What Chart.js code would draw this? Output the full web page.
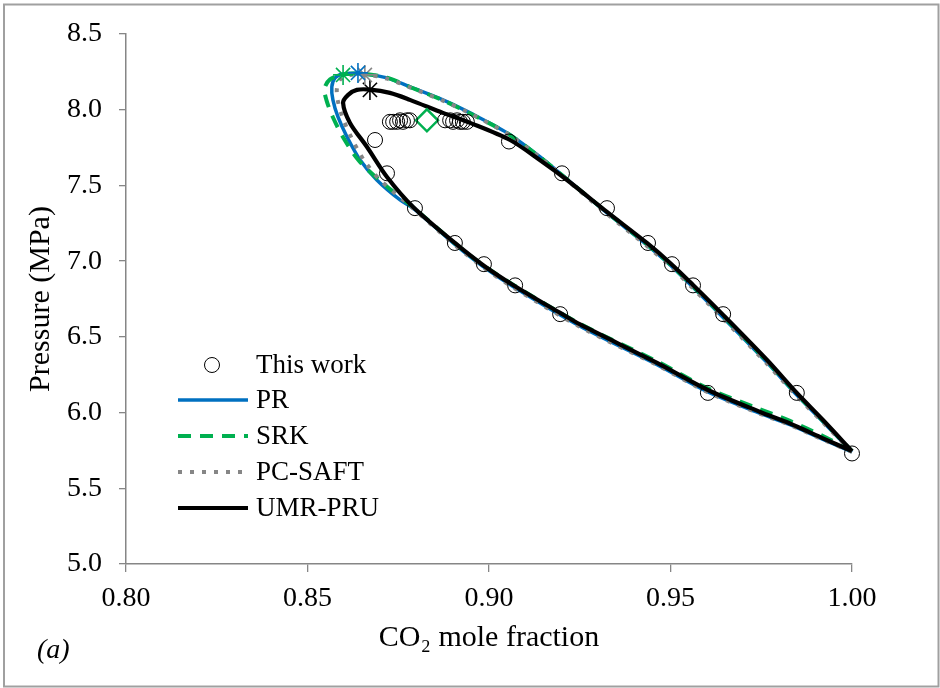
<!DOCTYPE html>
<html>
<head>
<meta charset="utf-8">
<script src="https://cdn.jsdelivr.net/npm/chart.js@4.4.1/dist/chart.umd.min.js"></script>
<style>
  html, body { margin: 0; padding: 0; background: #fff; }
  #wrap { width: 940px; height: 688px; position: relative; }
</style>
</head>
<body>
<div id="wrap"><canvas id="c" width="940" height="688"></canvas></div>
<script>
// ---------- DATA ----------
const xTickValues = [0.80, 0.85, 0.90, 0.95, 1.00];
const yTickValues = [5.0, 5.5, 6.0, 6.5, 7.0, 7.5, 8.0, 8.5];

// Experimental points (This work)
const expX = [1.000, 0.9603, 0.9196, 0.9072, 0.8986, 0.8906, 0.8796, 0.8719, 0.8686,
              0.8727, 0.8736, 0.8747, 0.8755, 0.8763, 0.8774, 0.8782,
              0.8879, 0.8893, 0.8901, 0.8912, 0.8920, 0.8928, 0.8939,
              0.9055, 0.9201, 0.9325, 0.9438, 0.9504, 0.9562, 0.9645, 0.9848];
const expP = [5.73, 6.13, 6.65, 6.84, 6.98, 7.12, 7.35, 7.58, 7.80,
              7.92, 7.92, 7.92, 7.93, 7.92, 7.93, 7.93,
              7.93, 7.93, 7.92, 7.93, 7.92, 7.92, 7.92,
              7.79, 7.58, 7.35, 7.12, 6.98, 6.84, 6.65, 6.13];

// Experimental critical point (diamond)
const critExpX = [0.8829];
const critExpP = [7.93];

// PR model
const prX = [1.000, 0.9920, 0.9829, 0.9747, 0.9603, 0.9463, 0.9251, 0.9066, 0.8983, 0.8906, 0.8791, 0.8755,
             0.8691, 0.8645, 0.8609, 0.8584, 0.8570, 0.8567, 0.8576, 0.8598, 0.8653, 0.8719, 0.8782,
             0.8873, 0.8948, 0.9050, 0.9140, 0.9215, 0.9325, 0.9435, 0.9499, 0.9562, 0.9645, 0.9766,
             0.9848, 0.9920, 1.000];
const prP = [5.74, 5.823, 5.920, 5.994, 6.136, 6.316, 6.570, 6.832, 6.965, 7.110, 7.350, 7.404,
             7.536, 7.668, 7.820, 7.952, 8.065, 8.151, 8.210, 8.236, 8.238, 8.210, 8.151,
             8.065, 7.979, 7.847, 7.690, 7.540, 7.318, 7.108, 6.975, 6.828, 6.628, 6.330,
             6.115, 5.940, 5.74];

// SRK model
const srkX = [1.000, 0.9920, 0.9829, 0.9747, 0.9603, 0.9463, 0.9251, 0.9066, 0.8983, 0.8906, 0.8791,
              0.8700, 0.8640, 0.8600, 0.8570, 0.8552, 0.8547, 0.8562, 0.8598, 0.8650, 0.8719, 0.8782,
              0.8873, 0.8948, 0.9050, 0.9140, 0.9215, 0.9325, 0.9435, 0.9499, 0.9562, 0.9645, 0.9766,
              0.9848, 0.9920, 1.000];
const srkP = [5.745, 5.845, 5.945, 6.022, 6.160, 6.338, 6.586, 6.845, 6.975, 7.118, 7.355,
              7.530, 7.668, 7.810, 7.950, 8.065, 8.140, 8.200, 8.232, 8.238, 8.212, 8.150,
              8.062, 7.975, 7.845, 7.688, 7.540, 7.322, 7.112, 6.980, 6.834, 6.636, 6.338,
              6.122, 5.945, 5.745];

// PC-SAFT model
const pcX = [1.000, 0.9920, 0.9829, 0.9747, 0.9603, 0.9463, 0.9251, 0.9066, 0.8983, 0.8906, 0.8791,
             0.8700, 0.8655, 0.8620, 0.8596, 0.8583, 0.8581, 0.8590, 0.8612, 0.8658, 0.8719, 0.8782,
             0.8873, 0.8948, 0.9050, 0.9140, 0.9215, 0.9325, 0.9435, 0.9499, 0.9562, 0.9645, 0.9766,
             0.9848, 0.9920, 1.000];
const pcP = [5.74, 5.822, 5.918, 5.992, 6.134, 6.314, 6.566, 6.828, 6.961, 7.106, 7.348,
             7.536, 7.668, 7.820, 7.952, 8.065, 8.140, 8.200, 8.228, 8.234, 8.205, 8.148,
             8.060, 7.975, 7.842, 7.685, 7.535, 7.312, 7.100, 6.968, 6.820, 6.620, 6.322,
             6.108, 5.935, 5.74];

// UMR-PRU model
const umrX = [1.000, 0.9920, 0.9829, 0.9747, 0.9603, 0.9463, 0.9251, 0.9196, 0.9066, 0.8983,
              0.8906, 0.8791, 0.8719, 0.8664, 0.8617, 0.8598, 0.8612, 0.8636, 0.8672, 0.8727,
              0.8782, 0.8873, 0.8948, 0.9058, 0.9140, 0.9215, 0.9325, 0.9435, 0.9499, 0.9562,
              0.9645, 0.9766, 0.9848, 0.9920, 1.000];
const umrP = [5.745, 5.830, 5.928, 6.004, 6.149, 6.328, 6.582, 6.658, 6.843, 6.975,
              7.120, 7.358, 7.556, 7.754, 7.913, 8.045, 8.098, 8.131, 8.133, 8.111,
              8.065, 7.979, 7.913, 7.800, 7.668, 7.536, 7.325, 7.120, 6.988, 6.843,
              6.645, 6.347, 6.129, 5.951, 5.745];

// Predicted critical points (asterisks)
const critPRX = [0.8639],  critPRP = [8.243];
const critSRKX = [0.8598], critSRKP = [8.230];
const critPCX = [0.8658],  critPCP = [8.230];
const critUMRX = [0.8672], critUMRP = [8.131];

const legendLabels = ['This work', 'PR', 'SRK', 'PC-SAFT', 'UMR-PRU'];

// ---------- BUILD ----------
const pts = (xs, ys) => xs.map((x, i) => ({ x: x, y: ys[i] }));
const SERIF = '"Liberation Serif", "Times New Roman", serif';
const BLUE = '#0070C0', GREEN = '#00B050', GRAY = '#868686', BLACK = '#000000';

function lineDs(label, xs, ys, color, width, dash, order) {
  return {
    label, data: pts(xs, ys), showLine: true, borderColor: color, backgroundColor: color,
    borderWidth: width, borderDash: dash, pointRadius: 0, tension: 0.3, order, clip: false,
    borderCapStyle: 'butt', borderJoinStyle: 'round', fill: false
  };
}
function starDs(label, xs, ys, color, order) {
  return {
    label, data: pts(xs, ys), showLine: false, pointStyle: 'star', pointRadius: 10, clip: false,
    borderColor: color, backgroundColor: color, pointBorderWidth: 1.6, order
  };
}

const datasets = [
  { label: legendLabels[0], data: pts(expX, expP), showLine: false, pointStyle: 'circle', clip: false,
    pointRadius: 7.5, pointBorderWidth: 1, borderColor: '#000', backgroundColor: 'rgba(0,0,0,0)', order: 0 },
  { label: 'exp-critical', data: pts(critExpX, critExpP), showLine: false, pointStyle: 'rectRot', clip: false,
    pointRadius: 11, pointBorderWidth: 2.5, borderColor: GREEN, backgroundColor: 'rgba(0,0,0,0)', order: 1 },
  starDs('PR-critical', critPRX, critPRP, BLUE, 2),
  starDs('SRK-critical', critSRKX, critSRKP, GREEN, 2),
  starDs('PC-SAFT-critical', critPCX, critPCP, GRAY, 2),
  starDs('UMR-PRU-critical', critUMRX, critUMRP, BLACK, 2),
  lineDs(legendLabels[1], prX, prP, BLUE, 3.5, [], 6),
  lineDs(legendLabels[2], srkX, srkP, GREEN, 4, [13, 9], 5),
  lineDs(legendLabels[3], pcX, pcP, GRAY, 4, [4, 8], 4),
  lineDs(legendLabels[4], umrX, umrP, BLACK, 4.2, [], 3)
];

const framePlugin = {
  id: 'frame',
  beforeDraw(chart) {
    const ctx = chart.ctx;
    ctx.save();
    ctx.fillStyle = '#fff';
    ctx.fillRect(0, 0, chart.width, chart.height);
    ctx.strokeStyle = '#a0a0a0';
    ctx.lineWidth = 2;
    ctx.strokeRect(4, 4.5, 934.5, 682);
    ctx.restore();
  },
  afterDraw(chart) {
    const ctx = chart.ctx;
    ctx.save();
    // legend
    const rows = [365, 400, 436, 472, 508];
    const x0 = 178, x1 = 248, tx = 256;
    ctx.font = '27px ' + SERIF;
    ctx.textBaseline = 'middle';
    ctx.textAlign = 'left';
    legendLabels.forEach((lab, i) => {
      const ds = chart.data.datasets.find(d => d.label === lab);
      const y = rows[i];
      if (i === 0) {
        ctx.beginPath();
        ctx.arc(212, y, 7.5, 0, Math.PI * 2);
        ctx.lineWidth = 1;
        ctx.strokeStyle = '#000';
        ctx.stroke();
      } else {
        ctx.beginPath();
        ctx.setLineDash(ds.borderDash || []);
        ctx.lineWidth = ds.borderWidth;
        ctx.strokeStyle = ds.borderColor;
        ctx.moveTo(x0, y);
        ctx.lineTo(x1, y);
        ctx.stroke();
        ctx.setLineDash([]);
      }
      ctx.fillStyle = '#000';
      ctx.fillText(lab, tx, y + 1);
    });
    // panel label
    ctx.font = 'italic 28px ' + SERIF;
    ctx.fillText('(a)', 37, 651);
    ctx.restore();
  }
};

new Chart(document.getElementById('c'), {
  type: 'scatter',
  data: { datasets },
  options: {
    responsive: false,
    animation: false,
    devicePixelRatio: 1,
    layout: { padding: { top: 34, right: 88, left: 0, bottom: 0 } },
    plugins: { legend: { display: false }, tooltip: { enabled: false } },
    scales: {
      x: {
        type: 'linear', min: 0.8, max: 1.0,
        afterBuildTicks(scale) { scale.ticks = xTickValues.map(v => ({ value: v })); },
        afterFit(scale) { scale.height = 124; },
        ticks: { padding: 10, color: '#000', font: { family: SERIF, size: 28 },
                 callback: v => Number(v).toFixed(2), maxRotation: 0 },
        grid: { drawOnChartArea: false, drawTicks: true, tickLength: 8, color: GRAY, lineWidth: 1.3 },
        border: { color: GRAY, width: 1.5 },
        title: { display: true, text: 'CO\u2082 mole fraction', color: '#000',
                 font: { family: SERIF, size: 30 }, padding: { top: 0, bottom: 32 } }
      },
      y: {
        type: 'linear', min: 5.0, max: 8.5,
        afterBuildTicks(scale) { scale.ticks = yTickValues.map(v => ({ value: v })); },
        afterFit(scale) { scale.width = 126; },
        ticks: { padding: 17, color: '#000', font: { family: SERIF, size: 28 },
                 callback: v => Number(v).toFixed(1) },
        grid: { drawOnChartArea: false, drawTicks: true, tickLength: 7, color: GRAY, lineWidth: 1.3 },
        border: { color: GRAY, width: 1.5 },
        title: { display: true, text: 'Pressure (MPa)', color: '#000',
                 font: { family: SERIF, size: 30 }, padding: { top: 23, bottom: 0 } }
      }
    }
  },
  plugins: [framePlugin]
});
</script>
</body>
</html>
